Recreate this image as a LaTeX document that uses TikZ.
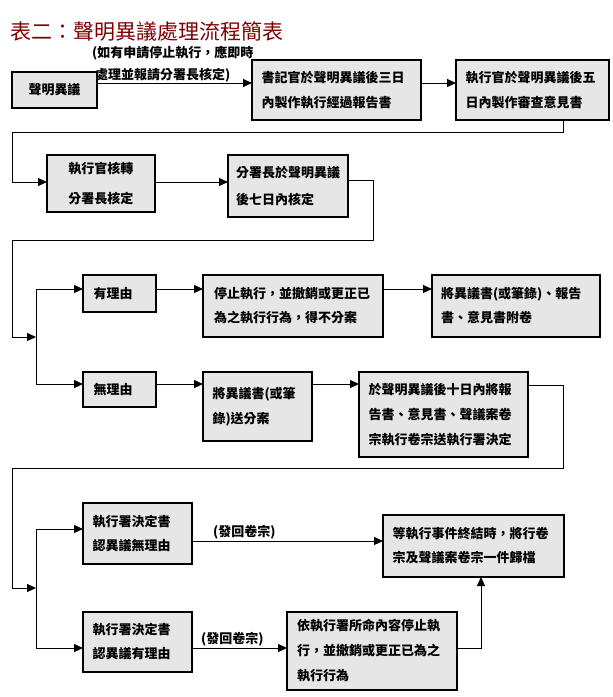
\documentclass[tikz,border=0pt]{standalone}
\usepackage{fontspec}
\newfontfamily\cjk{Noto Sans CJK TC}
\usetikzlibrary{arrows.meta}
\definecolor{boxgray}{RGB}{230,230,230}
\definecolor{titlered}{RGB}{128,0,0}
\begin{document}
\begin{tikzpicture}[x=1pt,y=-1pt,
  box/.style={draw=black, line width=1.8pt, fill=boxgray, anchor=north west, inner sep=0pt, outer sep=0pt,
    font=\cjk\bfseries\fontsize{13}{25}\selectfont, align=left},
  arr/.style={line width=1pt, -{Triangle[length=9pt,width=8pt]}},
  ln/.style={line width=1pt},
  lbl/.style={font=\cjk\bfseries\fontsize{13}{24}\selectfont, inner sep=0pt}
]
\useasboundingbox (0,0) rectangle (613,697);

% title
\node[anchor=west, text=titlered, font=\cjk\fontsize{21}{21}\selectfont, inner sep=0pt] (title) at (10,32) {表二：聲明異議處理流程簡表};

% labels
\node[lbl, anchor=west] (l1) at (92,53) {(如有申請停止執行，應即時};
\node[lbl, anchor=west] (l2) at (95,75) {處理並報請分署長核定)};

% row 1
\node[box, minimum width=85, minimum height=36, text width=60, align=center] (b1) at (12,72) {聲明異議};
\node[box, minimum width=169, minimum height=60, text width=150] (b2) at (252,60) {書記官於聲明異議後三日\\內製作執行經過報告書};
\node[box, minimum width=153, minimum height=60, text width=134] (b3) at (456,60) {執行官於聲明異議後五\\日內製作審查意見書};

% row 2
\node[box, minimum width=108, minimum height=57, text width=90, align=center,
  font=\cjk\bfseries\fontsize{13}{30}\selectfont] (b4) at (47,155) {執行官核轉\\分署長核定};
\node[box, minimum width=120, minimum height=62, text width=104,
  font=\cjk\bfseries\fontsize{13}{27}\selectfont] (b5) at (228,155) {分署長於聲明異議\\後七日內核定};

% row 3
\node[box, minimum width=73, minimum height=37, text width=52] (r1) at (83,275) {有理由};
\node[box, minimum width=180, minimum height=62, text width=158,
  font=\cjk\bfseries\fontsize{13}{24}\selectfont] (r2) at (203,275) {停止執行，並撤銷或更正已\\為之執行行為，得不分案};
\node[box, minimum width=168, minimum height=62, text width=150,
  font=\cjk\bfseries\fontsize{13}{24}\selectfont] (r3) at (432,275) {將異議書(或筆錄)、報告\\書、意見書附卷};

% row 4
\node[box, minimum width=73, minimum height=35, text width=52] (s1) at (83,372) {無理由};
\node[box, minimum width=109, minimum height=69, text width=90] (s2) at (203,372) {將異議書(或筆\\錄)送分案};
\node[box, minimum width=169, minimum height=85, text width=150] (s3) at (359,372) {於聲明異議後十日內將報\\告書、意見書、聲議案卷\\宗執行卷宗送執行署決定};

% row 5
\node[box, minimum width=109, minimum height=61, text width=90,
  font=\cjk\bfseries\fontsize{13}{24}\selectfont] (t1) at (83,503) {執行署決定書\\認異議無理由};
\node[box, minimum width=181, minimum height=62, text width=162,
  font=\cjk\bfseries\fontsize{13}{24}\selectfont] (t2) at (383,515) {等執行事件終結時，將行卷\\宗及聲議案卷宗一件歸檔};

% row 6
\node[box, minimum width=109, minimum height=60, text width=90,
  font=\cjk\bfseries\fontsize{13}{24}\selectfont] (u1) at (83,612) {執行署決定書\\認異議有理由};
\node[box, minimum width=170, minimum height=78, text width=150] (u2) at (287,612) {依執行署所命內容停止執\\行，並撤銷或更正已為之\\執行行為};

\node[lbl, anchor=south west] (l3) at (213,539) {(發回卷宗)};
\node[lbl, anchor=south west] (l4) at (201,646) {(發回卷宗)};

% helper coordinates
\coordinate (ya) at (0,83);
\coordinate (yb) at (0,182);
\coordinate (yc) at (0,180);
\coordinate (c1) at (563,132);
\coordinate (c2) at (12,132);
\coordinate (c3) at (373,240);
\coordinate (c4) at (12,240);
\coordinate (j1) at (36,337);
\coordinate (j1t) at (36,289);
\coordinate (j1b) at (36,384);
\coordinate (yd) at (0,385);
\coordinate (c5) at (563,468);
\coordinate (c6) at (12,468);
\coordinate (j2) at (36,588);
\coordinate (j2t) at (36,529);
\coordinate (j2b) at (36,648);
\coordinate (ye) at (0,541);
\coordinate (xf) at (481,0);

% connectors
\draw[arr] (b1.east |- ya) -- (b2.west |- ya);
\draw[arr] (b2.east |- ya) -- (b3.west |- ya);
\draw[arr] (b3.south -| c1) -- (c1) -- (c2) |- (b4.west |- yb);
\draw[arr] (b4.east |- yb) -- (b5.west |- yb);
\draw[arr] (b5.east |- yc) -| (c3) -- (c4) |- (j1);
\draw[ln] (j1t) -- (j1b);
\draw[arr] (j1t) -- (r1.west |- j1t);
\draw[arr] (j1b) -- (s1.west |- j1b);
\draw[arr] (r1.east |- j1t) -- (r2.west |- j1t);
\draw[arr] (r2.east |- j1t) -- (r3.west |- j1t);
\draw[arr] (s1.east |- j1b) -- (s2.west |- j1b);
\draw[arr] (s2.east |- j1b) -- (s3.west |- j1b);
\draw[arr] (s3.east |- yd) -| (c5) -- (c6) |- (j2);
\draw[ln] (j2t) -- (j2b);
\draw[arr] (j2t) -- (t1.west |- j2t);
\draw[arr] (j2b) -- (u1.west |- j2b);
\draw[arr] (t1.east |- ye) -- (t2.west |- ye);
\draw[arr] (u1.east |- j2b) -- (u2.west |- j2b);
\draw[arr] (u2.east |- j2b) -| (t2.south -| xf);
\end{tikzpicture}
\end{document}
